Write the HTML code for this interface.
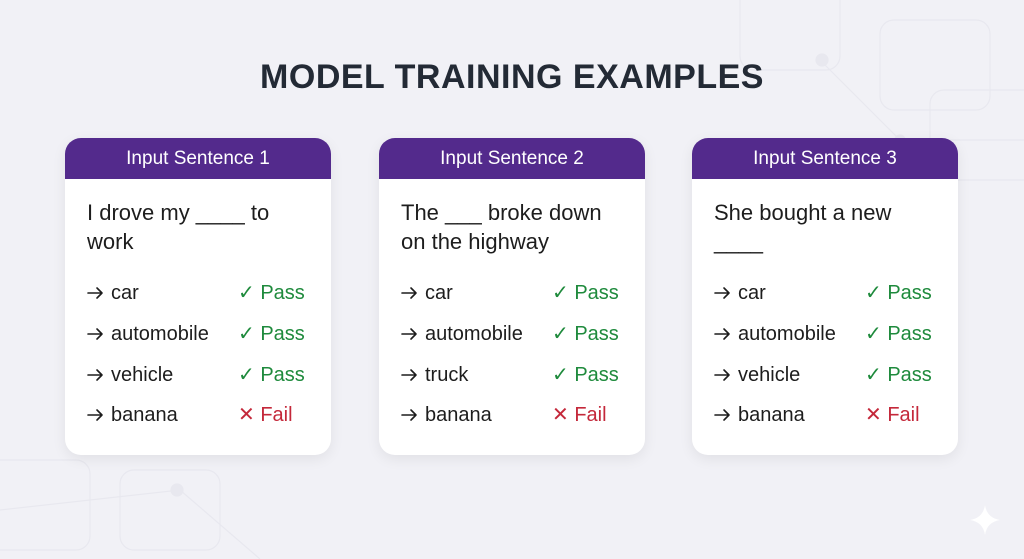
<!DOCTYPE html>
<html><head><style>
body{margin:0;width:1024px;height:559px;background:#f1f1f6;font-family:"Liberation Sans",sans-serif;position:relative;overflow:hidden}
.t{position:absolute;top:58px;left:0;width:1024px;text-align:center;font-size:34px;font-weight:bold;color:#232a35;letter-spacing:0.5px}
.c{position:absolute;top:138px;width:266px;height:317px;background:#fff;border-radius:16px;box-shadow:0 4px 14px rgba(0,0,0,0.07);overflow:hidden}
.h{height:41px;background:#532a8c;color:#fff;font-size:19px;text-align:center;line-height:42px}
.s{position:absolute;left:22px;top:60px;font-size:22px;line-height:29px;color:#1d1d1d;width:222px}
.r{position:absolute;left:22px;font-size:20px;line-height:24px;height:24px;color:#1d1d1d;width:230px;display:flex;align-items:center}
.r svg{width:24px;height:24px;flex:none}
.r .w{width:127px;display:inline-block}
.p{color:#1e8a3c}.f{color:#c4283a}
</style></head><body>
<svg width="1024" height="559" style="position:absolute;left:0;top:0" fill="none" stroke="#e8e8ef" stroke-width="1.2">
<rect x="740" y="-20" width="100" height="90" rx="14"/><rect x="880" y="20" width="110" height="90" rx="14"/><rect x="930" y="90" width="110" height="90" rx="14"/>
<path d="M820 60 L900 140 L1024 140"/><circle cx="822" cy="60" r="6" fill="#e8e8ef"/><circle cx="900" cy="140" r="5" fill="#e8e8ef"/>
<rect x="-20" y="460" width="110" height="90" rx="14"/><rect x="120" y="470" width="100" height="80" rx="14"/><path d="M0 510 L180 490 L260 559"/><circle cx="177" cy="490" r="6" fill="#e8e8ef"/>
<path d="M985 505 Q987 518 1000 520 Q987 522 985 535 Q983 522 970 520 Q983 518 985 505Z" fill="#fff" stroke="none"/>
</svg>
<svg width="0" height="0" style="position:absolute"><defs><g id="ar"><path d="M1 12 H15 M10 7 L15 12 L10 17" fill="none" stroke="#1d1d1d" stroke-width="1.6" stroke-linecap="round" stroke-linejoin="round"/></g></defs></svg>
<div class="t">MODEL TRAINING EXAMPLES</div>

<div class="c" style="left:65px"><div class="h">Input Sentence 1</div>
<div class="s">I drove my ____ to work</div>
<div class="r" style="top:143px"><svg><use href="#ar"/></svg><span class="w">car</span><span class="p">✓ Pass</span></div>
<div class="r" style="top:184px"><svg><use href="#ar"/></svg><span class="w">automobile</span><span class="p">✓ Pass</span></div>
<div class="r" style="top:225px"><svg><use href="#ar"/></svg><span class="w">vehicle</span><span class="p">✓ Pass</span></div>
<div class="r" style="top:265px"><svg><use href="#ar"/></svg><span class="w">banana</span><span class="f">✕ Fail</span></div>
</div>

<div class="c" style="left:379px"><div class="h">Input Sentence 2</div>
<div class="s">The ___ broke down on the highway</div>
<div class="r" style="top:143px"><svg><use href="#ar"/></svg><span class="w">car</span><span class="p">✓ Pass</span></div>
<div class="r" style="top:184px"><svg><use href="#ar"/></svg><span class="w">automobile</span><span class="p">✓ Pass</span></div>
<div class="r" style="top:225px"><svg><use href="#ar"/></svg><span class="w">truck</span><span class="p">✓ Pass</span></div>
<div class="r" style="top:265px"><svg><use href="#ar"/></svg><span class="w">banana</span><span class="f">✕ Fail</span></div>
</div>

<div class="c" style="left:692px"><div class="h">Input Sentence 3</div>
<div class="s">She bought a new ____</div>
<div class="r" style="top:143px"><svg><use href="#ar"/></svg><span class="w">car</span><span class="p">✓ Pass</span></div>
<div class="r" style="top:184px"><svg><use href="#ar"/></svg><span class="w">automobile</span><span class="p">✓ Pass</span></div>
<div class="r" style="top:225px"><svg><use href="#ar"/></svg><span class="w">vehicle</span><span class="p">✓ Pass</span></div>
<div class="r" style="top:265px"><svg><use href="#ar"/></svg><span class="w">banana</span><span class="f">✕ Fail</span></div>
</div>
</body></html>
